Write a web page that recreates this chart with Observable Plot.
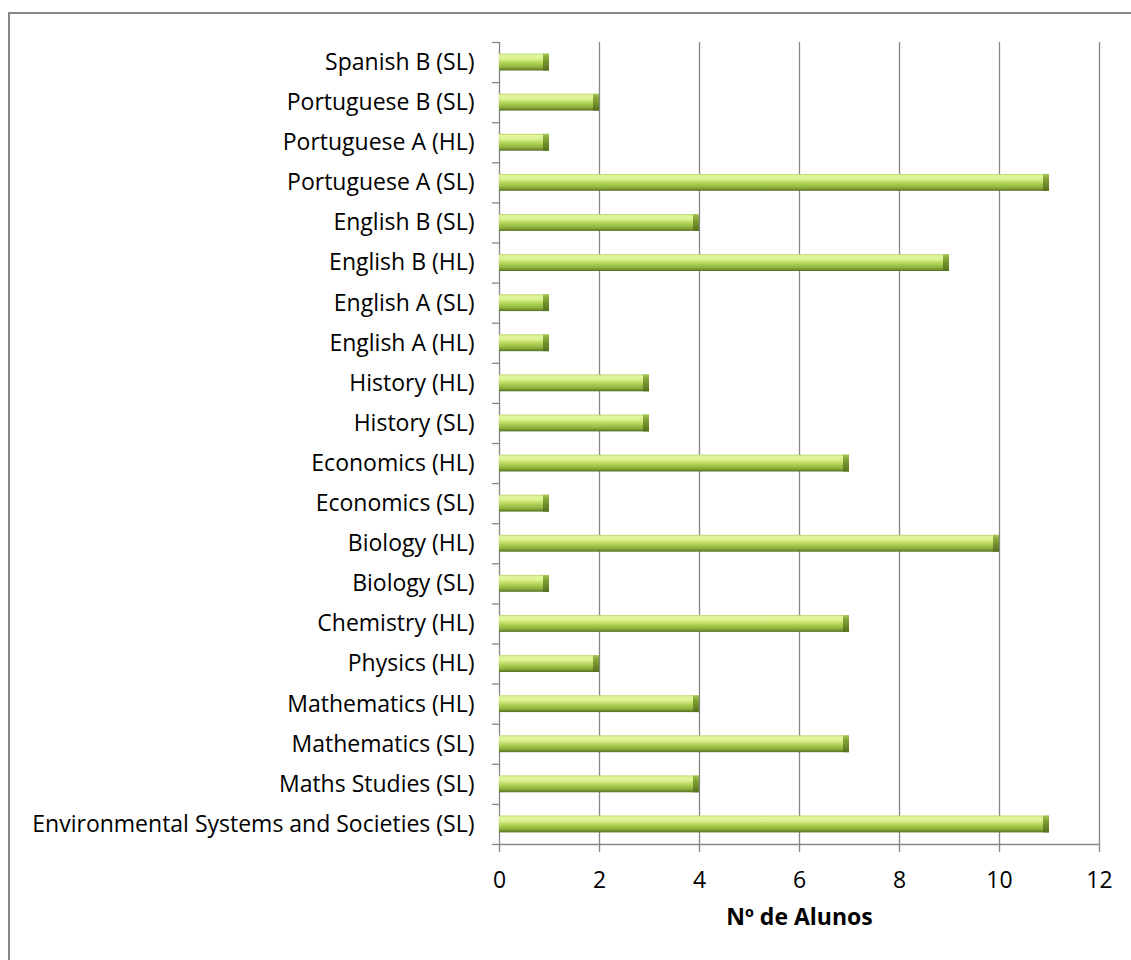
<!DOCTYPE html>
<html>
<head>
<meta charset="utf-8">
<script src="https://cdn.jsdelivr.net/npm/d3@7"></script>
<script src="https://cdn.jsdelivr.net/npm/@observablehq/plot@0.6"></script>
<style>
  body { margin: 0; background: #fff; }
  #chart { position: relative; width: 1131px; height: 960px; overflow: hidden; }
  #frame { position: absolute; left: 8px; top: 12px; right: -10px; bottom: -10px;
           border-left: 2px solid #878787; border-top: 2px solid #878787; }
  #chart svg { position: absolute; left: 0; top: 0; }
</style>
</head>
<body>
<div id="chart"><div id="frame"></div></div>
<script>
// Subjects listed from top to bottom, with the number of students in each
const subjects = [
  "Spanish B (SL)",
  "Portuguese B (SL)",
  "Portuguese A (HL)",
  "Portuguese A (SL)",
  "English B (SL)",
  "English B (HL)",
  "English A (SL)",
  "English A (HL)",
  "History (HL)",
  "History (SL)",
  "Economics (HL)",
  "Economics (SL)",
  "Biology (HL)",
  "Biology (SL)",
  "Chemistry (HL)",
  "Physics (HL)",
  "Mathematics (HL)",
  "Mathematics (SL)",
  "Maths Studies (SL)",
  "Environmental Systems and Societies (SL)"
];
const students = [1, 2, 1, 11, 4, 9, 1, 1, 3, 3, 7, 1, 10, 1, 7, 2, 4, 7, 4, 11];
const xTicks = [0, 2, 4, 6, 8, 10, 12];
const xTitle = "Nº de Alunos";

const rows = subjects.map((subject, i) => ({ subject, row: i, value: students[i] }));
const n = subjects.length;
const half = 0.21; // half the bar thickness, in row units

const grey = "#878787";
const font = 23;

const plot = Plot.plot({
  width: 1131,
  height: 960,
  marginLeft: 499,
  marginRight: 32,
  marginTop: 42,
  marginBottom: 116,
  style: { fontFamily: "'Open Sans', sans-serif", fontSize: `${font}px`, color: "#000", background: "transparent" },
  x: { domain: [0, 12] },
  y: { domain: [0, n], reverse: true },
  marks: [
    Plot.gridX(xTicks.filter(t => t > 0), { stroke: grey, strokeOpacity: 1, strokeWidth: 1.3 }),
    Plot.ruleX([0], { stroke: grey, strokeWidth: 1.3 }),
    Plot.ruleY([n], { stroke: grey, strokeWidth: 1.3 }),
    Plot.axisX({ ticks: xTicks, tickSize: 8, tickPadding: 19, label: null, stroke: grey, strokeWidth: 1.3, fontSize: font }),
    // category dividers on the y axis
    Plot.axisY({ ticks: d3.range(0, n + 1), tickSize: 7, tickFormat: () => "", label: null, stroke: grey, strokeWidth: 1.3 }),
    Plot.text(rows, { x: 0, y: d => d.row + 0.5, text: "subject", textAnchor: "end", dx: -25, fontSize: font }),
    Plot.rect(rows, {
      x1: 0, x2: "value",
      y1: d => d.row + 0.5 - half, y2: d => d.row + 0.5 + half,
      fill: "url(#barFill)", ariaLabel: "bars"
    }),
    // bevelled right end of each bar
    Plot.rect(rows, {
      x1: "value", x2: "value", insetLeft: -6,
      y1: d => d.row + 0.5 - half, y2: d => d.row + 0.5 + half,
      fill: "url(#endFill)", ariaLabel: "bar ends"
    }),
    Plot.text([xTitle], { frameAnchor: "bottom", dy: 80, fontWeight: "bold", fontSize: font })
  ]
});

const svg = d3.select(plot);
const defs = svg.insert("defs", ":first-child");

const body = defs.append("linearGradient").attr("id", "barFill")
  .attr("x1", 0).attr("y1", 0).attr("x2", 0).attr("y2", 1);
[[0, "#b4d468"], [0.1, "#e2f59c"], [0.3, "#ddf293"], [0.55, "#b2d356"], [0.8, "#8fb23e"], [0.92, "#6f8e2c"], [1, "#52691e"]]
  .forEach(([o, c]) => body.append("stop").attr("offset", o).attr("stop-color", c));

const end = defs.append("linearGradient").attr("id", "endFill")
  .attr("x1", 0).attr("y1", 0).attr("x2", 0).attr("y2", 1);
[[0, "#a8c852"], [0.25, "#86a638"], [1, "#55701d"]]
  .forEach(([o, c]) => end.append("stop").attr("offset", o).attr("stop-color", c));

const shadow = defs.append("filter").attr("id", "barShadow")
  .attr("x", "-5%").attr("y", "-50%").attr("width", "115%").attr("height", "250%");
shadow.append("feDropShadow").attr("dx", 2).attr("dy", 3).attr("stdDeviation", 2)
  .attr("flood-color", "#000").attr("flood-opacity", 0.35);

svg.selectAll('g[aria-label="bars"], g[aria-label="bar ends"]').attr("filter", "url(#barShadow)");

document.getElementById("chart").appendChild(plot);
</script>
</body>
</html>
